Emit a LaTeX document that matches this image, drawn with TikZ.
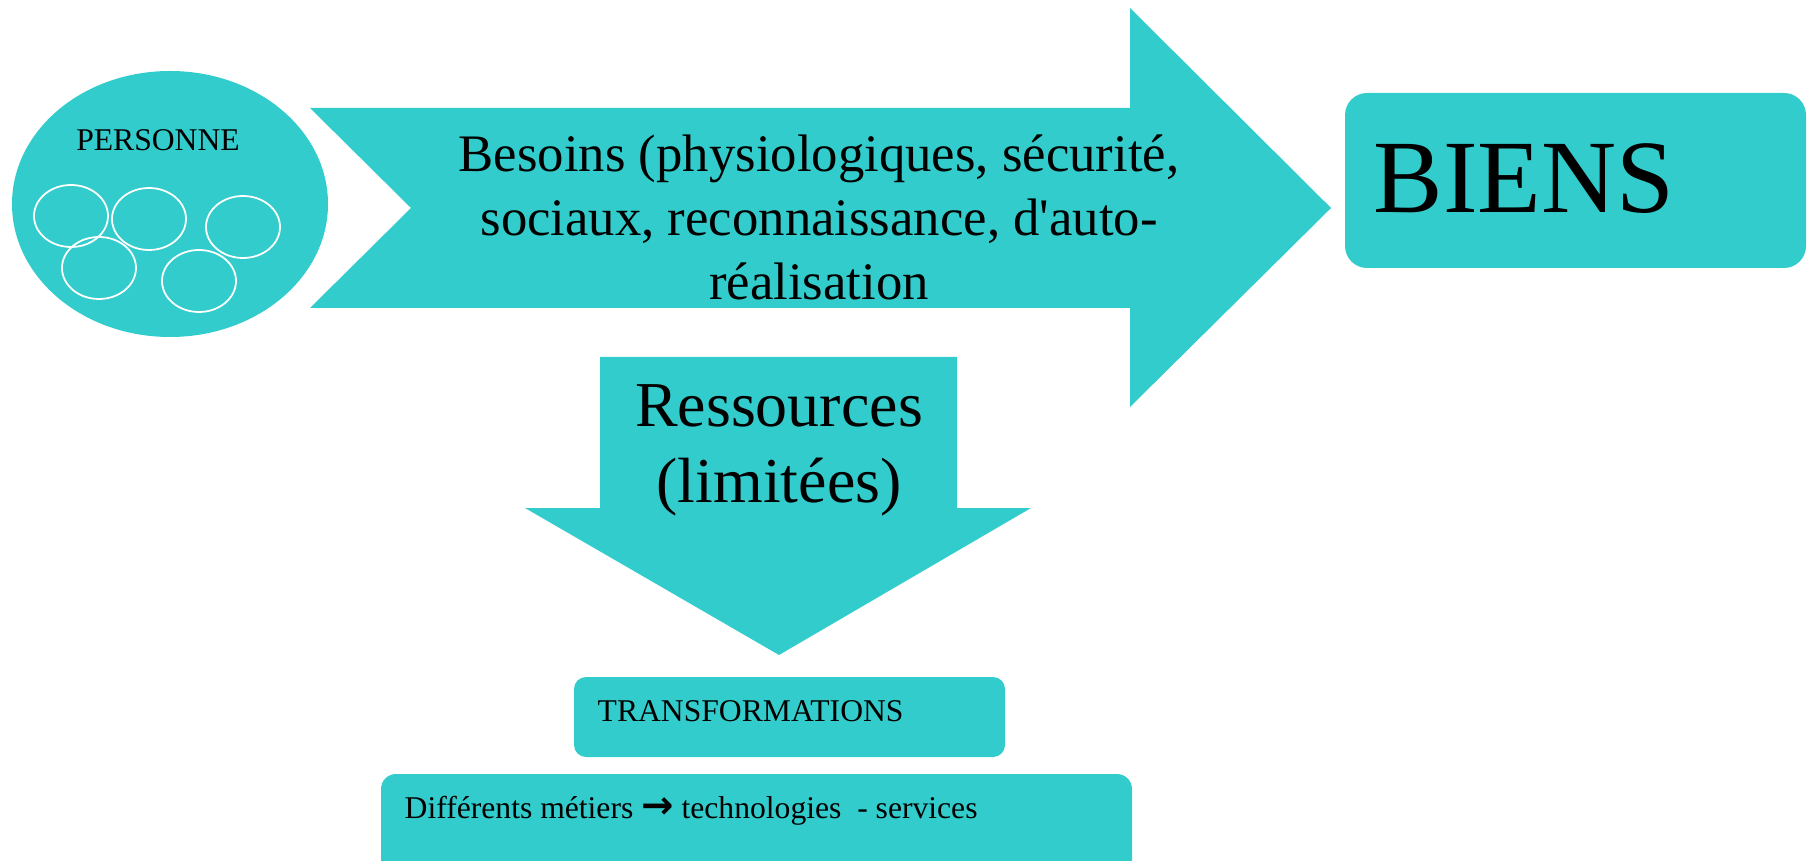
\documentclass[tikz,border=0pt]{standalone}
\usepackage{fontspec}
\newfontfamily\ppt{Liberation Serif}
\newfontfamily\symfnt{DejaVu Sans}
\usepackage{tikz}
\usetikzlibrary{positioning, calc, shapes.geometric}
\definecolor{turq}{HTML}{33CCCC}

\begin{document}
\begin{tikzpicture}[
    person/.style={ellipse, fill=turq, minimum width=3.16cm, minimum height=2.66cm, inner sep=0pt},
    member/.style={ellipse, draw=white, line width=0.5pt, minimum width=0.74cm, minimum height=0.62cm, inner sep=0pt},
    smalltxt/.style={font=\ppt\fontsize{9}{11}\selectfont, inner sep=0pt},
    needtxt/.style={font=\ppt\fontsize{15}{18.2}\selectfont, align=center, inner sep=0pt},
    restxt/.style={font=\ppt\fontsize{18.2}{21.6}\selectfont, align=center, inner sep=0pt},
    bigtxt/.style={font=\ppt\fontsize{29.6}{32}\selectfont, inner sep=0pt},
    box/.style={fill=turq, rounded corners=0.22cm}
]
    \useasboundingbox (0,0) rectangle (18.14,-8.61);

    % Person
    \node[person] (P) at (1.70,-2.04) {};
    \node[smalltxt] (P_lbl) at (1.58,-1.40) {PERSONNE};
    \node[member] (m1) at (0.71,-2.16) {};
    \node[member] (m2) at (1.49,-2.19) {};
    \node[member] (m3) at (2.43,-2.27) {};
    \node[member] (m4) at (0.99,-2.68) {};
    \node[member] (m5) at (1.99,-2.81) {};

    % Needs arrow
    \fill[turq] (3.10,-1.08) -- (11.30,-1.08) -- (11.30,-0.08) -- (13.31,-2.08)
        -- (11.30,-4.07) -- (11.30,-3.08) -- (3.10,-3.08) -- (4.11,-2.08) -- cycle;
    \node[needtxt] (needs) at (8.19,-2.17) {Besoins (physiologiques, sécurité,\\sociaux, reconnaissance, d'auto-\\réalisation};

    % Goods
    \fill[box] (13.45,-0.93) rectangle (18.06,-2.68);
    \node[bigtxt, anchor=base west] (goods) at (13.73,-2.13) {BIENS};

    % Resources arrow
    \fill[turq] (6.00,-3.57) -- (9.57,-3.57) -- (9.57,-5.08) -- (10.31,-5.08)
        -- (7.79,-6.55) -- (5.25,-5.08) -- (6.00,-5.08) -- cycle;
    \node[restxt] (res) at (7.79,-4.50) {Ressources\\(limitées)};

    % Transformations
    \fill[box, rounded corners=0.12cm] (5.74,-6.77) rectangle (10.05,-7.57);
    \node[smalltxt, anchor=base west] (trans) at (5.97,-7.21) {TRANSFORMATIONS};
    \fill[box, rounded corners=0.15cm] (3.81,-7.74) rectangle (11.32,-8.75);
    \node[smalltxt, anchor=base west] (jobs) at (4.04,-8.18) {Différents métiers {\symfnt\bfseries\fontsize{11}{11}\selectfont →} technologies\ \ - services};
\end{tikzpicture}
\end{document}
